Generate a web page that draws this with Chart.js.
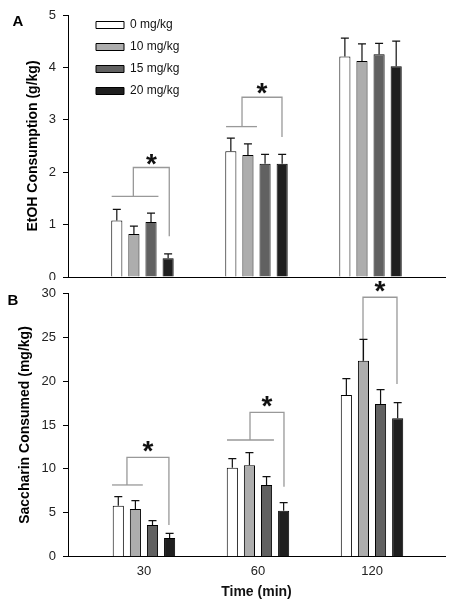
<!DOCTYPE html>
<html><head><meta charset="utf-8">
<script src="https://cdn.jsdelivr.net/npm/chart.js@4.4.1/dist/chart.umd.min.js"></script>
<style>
html,body{margin:0;padding:0;background:#fff;}
#wrap{position:relative;width:455px;height:609px;overflow:hidden;}
#top{position:absolute;left:0;top:0;}
#bot{position:absolute;left:0;top:280px;}
</style></head><body>
<div id="wrap">
<canvas id="top" width="455" height="280"></canvas>
<canvas id="bot" width="455" height="329"></canvas>
</div>
<script>
// ---- data ----
const timeLabels = ['30', '60', '120'];
const doseLabels = ['0 mg/kg', '10 mg/kg', '15 mg/kg', '20 mg/kg'];

// Panel A: EtOH consumption (g/kg), one array per dose across time points
const etoh0  = [1.08, 2.40, 4.21];
const etoh10 = [0.82, 2.33, 4.12];
const etoh15 = [1.05, 2.16, 4.25];
const etoh20 = [0.36, 2.16, 4.02];
const etohErr0  = [0.21, 0.25, 0.35];
const etohErr10 = [0.15, 0.21, 0.33];
const etohErr15 = [0.17, 0.18, 0.21];
const etohErr20 = [0.08, 0.18, 0.48];

// Panel B: Saccharin consumed (mg/kg)
const sacch0  = [5.81, 10.14, 18.42];
const sacch10 = [5.43, 10.41, 22.33];
const sacch15 = [3.61, 8.17, 17.39];
const sacch20 = [2.13, 5.24, 15.76];
const sacchErr0  = [1.03, 1.03, 1.86];
const sacchErr10 = [0.95, 1.44, 2.43];
const sacchErr15 = [0.49, 0.94, 1.64];
const sacchErr20 = [0.53, 0.91, 1.79];

// y-axis ticks
const etohTicks = [0, 1, 2, 3, 4, 5];
const sacchTicks = [0, 5, 10, 15, 20, 25, 30];

// significance brackets (x in time-index units, y in data units)
const etohBracketLines = [
  [[-0.27, 1.54], [0.14, 1.54]],
  [[-0.08, 1.54], [-0.08, 2.09], [0.235, 2.09], [0.235, 0.78]],
  [[0.733, 2.87], [1.004, 2.87]],
  [[0.873, 2.87], [0.873, 3.43], [1.2235, 3.43], [1.2235, 2.67]]
];
const etohStars = [[0.078, 2.25], [1.048, 3.60]];

const sacchBracketLines = [
  [[-0.28, 8.17], [-0.01, 8.17]],
  [[-0.149, 8.17], [-0.149, 11.32], [0.219, 11.32], [0.219, 3.61]],
  [[0.728, 13.29], [1.14, 13.29]],
  [[0.93, 13.29], [0.93, 16.44], [1.228, 16.44], [1.228, 7.98]],
  [[1.921, 16.7], [1.921, 29.55], [2.219, 29.55], [2.219, 19.67]]
];
const sacchStars = [[0.035, 12.53], [1.079, 17.65], [2.07, 30.75]];

// ---- styles ----
const FONT = "'Liberation Sans', Arial, Helvetica, sans-serif";
const doseColors = ['#ffffff', '#adadad', '#616161', '#1f1f1f'];
Chart.defaults.font.family = FONT;
Chart.defaults.color = '#222';

function barSets(series, errs) {
  return series.map((vals, d) => ({
    type: 'bar',
    label: doseLabels[d],
    data: vals.map((v, i) => ({x: i, y: v})),
    errors: errs[d],
    backgroundColor: doseColors[d],
    borderColor: '#000',
    borderWidth: 1,
    categoryPercentage: 0.6,
    barPercentage: 0.65
  }));
}
function bracketSets(lines) {
  return lines.map(pts => ({
    type: 'line',
    label: '',
    data: pts.map(p => ({x: p[0], y: p[1]})),
    borderColor: '#999999',
    borderWidth: 1.3,
    pointRadius: 0,
    fill: false,
    tension: 0,
    clip: false
  }));
}

const errorBars = {
  id: 'errorBars',
  afterDatasetsDraw(chart) {
    const ctx = chart.ctx, ys = chart.scales.y;
    ctx.save();
    ctx.strokeStyle = '#111';
    ctx.lineWidth = 1.2;
    chart.data.datasets.forEach((ds, di) => {
      if (!ds.errors) return;
      chart.getDatasetMeta(di).data.forEach((el, j) => {
        const top = ys.getPixelForValue(ds.data[j].y + ds.errors[j]);
        ctx.beginPath();
        ctx.moveTo(el.x, el.y);
        ctx.lineTo(el.x, top);
        ctx.moveTo(el.x - 4, top);
        ctx.lineTo(el.x + 4, top);
        ctx.stroke();
      });
    });
    ctx.restore();
  }
};
const stars = {
  id: 'stars',
  afterDatasetsDraw(chart, args, opts) {
    const ctx = chart.ctx, xs = chart.scales.x, ys = chart.scales.y;
    ctx.save();
    ctx.font = 'bold ' + opts.size + 'px ' + FONT;
    ctx.fillStyle = '#111';
    ctx.textAlign = 'center';
    ctx.textBaseline = 'alphabetic';
    const m = ctx.measureText('*');
    const off = (m.actualBoundingBoxAscent - m.actualBoundingBoxDescent) / 2;
    (opts.points || []).forEach(p => {
      ctx.fillText('*', xs.getPixelForValue(p[0]), ys.getPixelForValue(p[1]) + off);
    });
    ctx.restore();
  }
};
const panelLabel = {
  id: 'panelLabel',
  afterDraw(chart, args, opts) {
    const ctx = chart.ctx;
    ctx.save();
    ctx.font = 'bold 15px ' + FONT;
    ctx.fillStyle = '#000';
    ctx.textAlign = 'center';
    ctx.textBaseline = 'middle';
    ctx.fillText(opts.text, opts.x, opts.y);
    ctx.restore();
  }
};
const legendShift = {
  id: 'legendShift',
  afterLayout(chart, args, opts) {
    const lg = chart.legend;
    if (!lg || !opts.dx) return;
    lg.left += opts.dx; lg.right += opts.dx;
    lg.top += opts.dy; lg.bottom += opts.dy;
  }
};

function makeOptions(cfg) {
  return {
    responsive: false,
    animation: false,
    devicePixelRatio: 1,
    events: [],
    layout: {padding: cfg.padding},
    plugins: {
      legend: cfg.legend,
      tooltip: {enabled: false},
      stars: {points: cfg.stars, size: 28},
      panelLabel: cfg.panel,
      legendShift: cfg.shift || {}
    },
    scales: {
      x: {
        type: 'linear',
        offset: false,
        min: cfg.xmin, max: cfg.xmax,
        afterBuildTicks(s) { s.ticks = timeLabels.map((t, i) => ({value: i})); },
        ticks: {
          display: cfg.showX,
          padding: 6.5,
          color: '#222',
          font: {size: 13},
          callback: (v) => timeLabels[v] !== undefined ? timeLabels[v] : ''
        },
        grid: {display: false, drawTicks: false, offset: false},
        border: {display: true, color: '#000', width: 1},
        title: {
          display: cfg.showX,
          text: 'Time (min)',
          color: '#111',
          font: {size: 14, weight: 'bold'},
          padding: {top: -1.5, bottom: 3}
        }
      },
      y: {
        min: cfg.yTicks[0], max: cfg.yTicks[cfg.yTicks.length - 1],
        afterBuildTicks(s) { s.ticks = cfg.yTicks.map(v => ({value: v})); },
        afterFit(s) { s.width = cfg.yWidth; s.paddingTop = 0; s.paddingBottom = 0; },
        ticks: {padding: 7, color: '#222', font: {size: 13}},
        grid: {display: true, drawOnChartArea: false, drawTicks: true, tickLength: 5, color: '#000'},
        border: {display: true, color: '#000', width: 1},
        title: {
          display: true,
          text: cfg.yTitle,
          color: '#000',
          font: {size: 14, weight: 'bold'},
          padding: {top: 8, bottom: 0}
        }
      }
    }
  };
}

new Chart(document.getElementById('top'), {
  type: 'bar',
  data: {
    datasets: barSets([etoh0, etoh10, etoh15, etoh20], [etohErr0, etohErr10, etohErr15, etohErr20])
      .concat(bracketSets(etohBracketLines))
  },
  options: makeOptions({
    padding: {left: 16.5, right: 10, top: 15, bottom: 3},
    yWidth: 51.5,
    xmin: -0.653, xmax: 2.653,
    showX: false,
    yTicks: etohTicks,
    yTitle: 'EtOH Consumption (g/kg)',
    stars: etohStars,
    panel: {text: 'A', x: 18, y: 22},
    shift: {dx: 18, dy: 9},
    legend: {
      display: true,
      position: 'chartArea',
      align: 'start',
      labels: {
        boxWidth: 28,
        boxHeight: 7,
        padding: 10,
        color: '#111',
        font: {size: 12},
        filter: (item) => item.datasetIndex < 4
      }
    }
  }),
  plugins: [errorBars, stars, panelLabel, legendShift]
});

new Chart(document.getElementById('bot'), {
  type: 'bar',
  data: {
    datasets: barSets([sacch0, sacch10, sacch15, sacch20], [sacchErr0, sacchErr10, sacchErr15, sacchErr20])
      .concat(bracketSets(sacchBracketLines))
  },
  options: makeOptions({
    padding: {left: 8.5, right: 10, top: 13.3, bottom: 5.4},
    yWidth: 59.5,
    xmin: -0.666, xmax: 2.64,
    showX: true,
    yTicks: sacchTicks,
    yTitle: 'Saccharin Consumed (mg/kg)',
    stars: sacchStars,
    panel: {text: 'B', x: 13, y: 20.5},
    legend: {display: false}
  }),
  plugins: [errorBars, stars, panelLabel, legendShift]
});
</script>
</body></html>
